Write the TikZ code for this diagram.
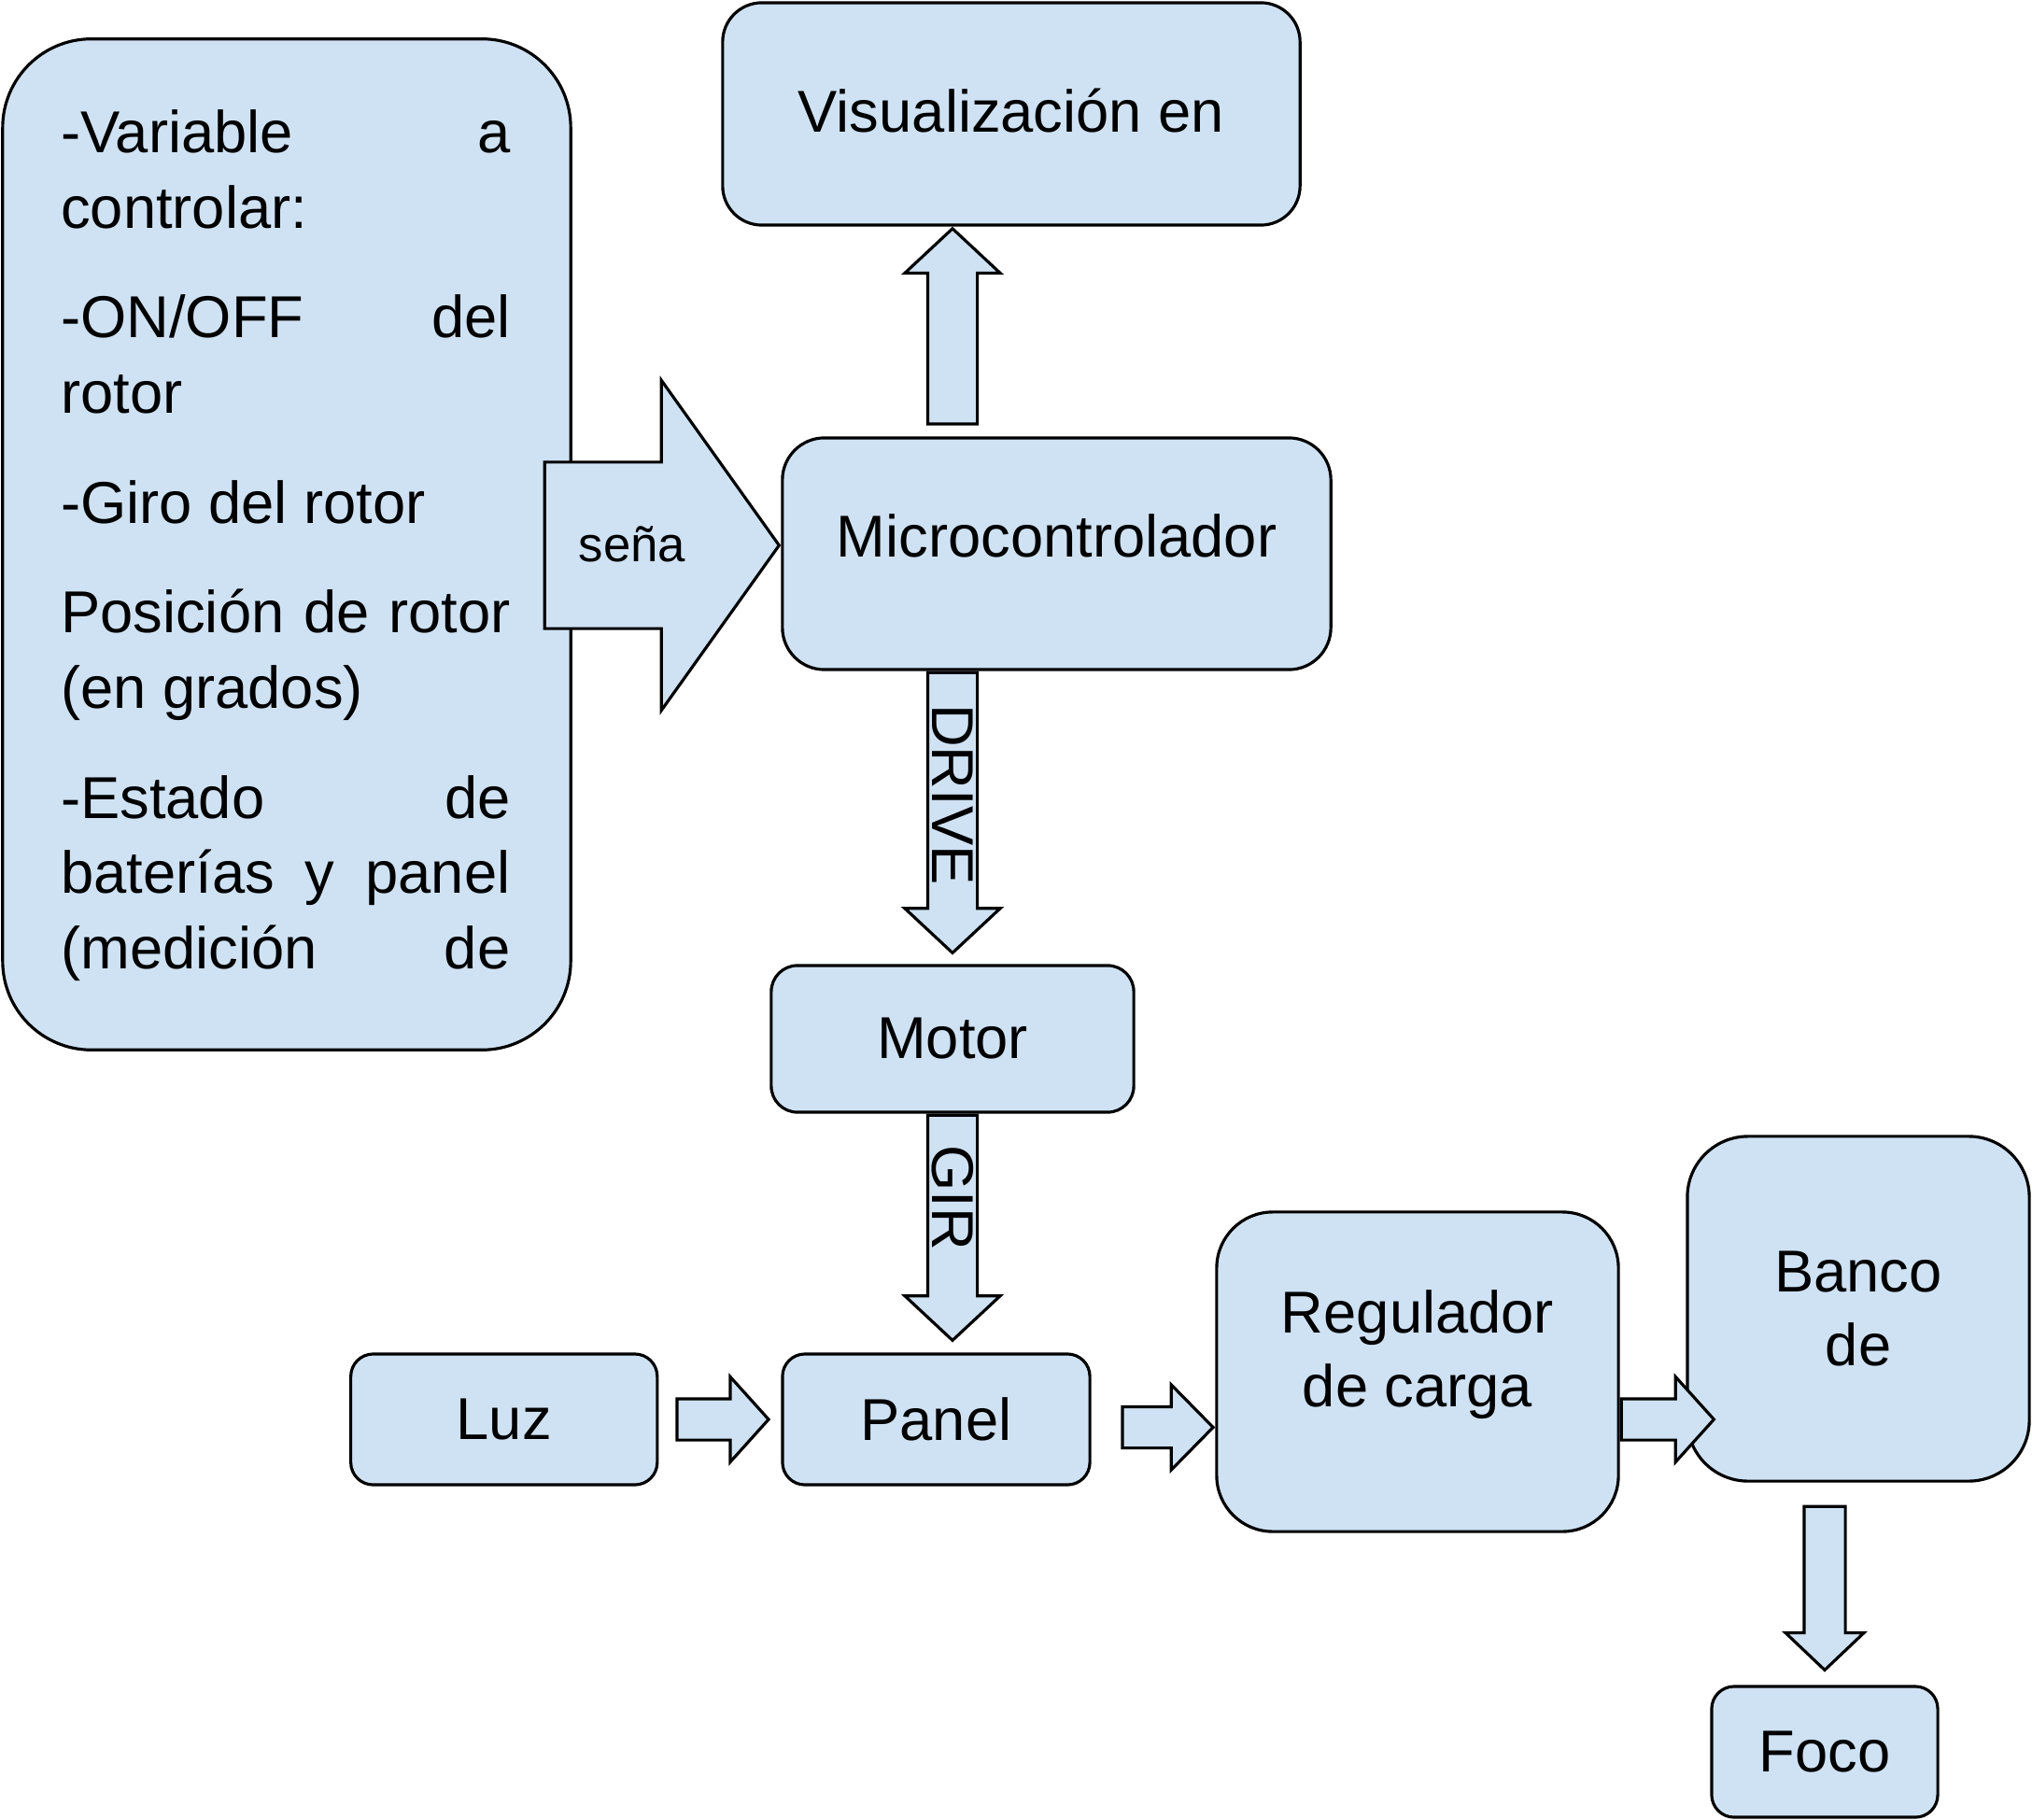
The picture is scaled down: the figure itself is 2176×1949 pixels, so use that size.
\documentclass[tikz,border=0pt]{standalone}
\usepackage{fontspec}
\setmainfont{Liberation Sans}
\usepackage{tikz}
\usetikzlibrary{positioning, calc, shapes.arrows}
\definecolor{boxblue}{HTML}{CFE2F3}
\setlength{\parindent}{0pt}
\tikzset{
 block/.style = {
    rectangle, draw, fill=boxblue,
    line width=0.9pt,
    align=center,
    inner sep=0pt,
    font=\fontsize{18}{22.4}\selectfont},
 block text/.style = {
    black, align=center, inner sep=0pt,
    font=\fontsize{18}{22.4}\selectfont},
 big arrow/.style = {
    single arrow, draw, fill=boxblue, line width=0.9pt,
    inner xsep=0pt, inner ysep=0.25cm, minimum width=0pt,
    single arrow head extend=0.245cm, single arrow tip angle=94},
 small arrow/.style = {
    single arrow, draw, fill=boxblue, line width=0.9pt,
    inner xsep=0pt, inner ysep=0.205cm, minimum width=0pt,
    single arrow head extend=0.235cm, single arrow tip angle=96},
 arrow label/.style = {
    black, inner sep=0pt, rotate=-90,
    font=\fontsize{18}{22}\selectfont},
}

\begin{document}
\begin{tikzpicture}[x=0.01cm, y=-0.01cm, node distance=4.625cm]
    \useasboundingbox (0,0) rectangle (2176,1949);

    % Place nodes
    \node [block, minimum width=6.08cm, minimum height=10.82cm, rounded corners=0.95cm] (vars) at (307,583) {};
    \node [block text, anchor=north west, text width=4.81cm, align=justify,
           font=\fontsize{18}{23}\selectfont] (varstxt) at (64.5,117) {%
        -Variable\hfill a\\
        controlar:\\[10.4pt]
        -ON/OFF\hfill del\\
        rotor\\[10.4pt]
        -Giro del rotor\\[10.4pt]
        Posición\hfill de\hfill rotor\\
        (en grados)\\[10.4pt]
        -Estado\hfill de\\
        baterías\hfill y\hfill panel\\
        (medición\hfill de};
    \node [block, minimum width=6.18cm, minimum height=2.38cm, rounded corners=0.42cm] (vis) at (1083,122) {};
    \node [block text] (vistxt) at ([yshift=0.03cm]vis.center) {Visualización en};
    \node [block, minimum width=5.87cm, minimum height=2.48cm, rounded corners=0.45cm] (micro) at (1131.5,593) {};
    \node [block text] (microtxt) at ([yshift=0.19cm]micro.center) {Microcontrolador};
    \node [block, minimum width=3.88cm, minimum height=1.57cm, rounded corners=0.28cm] (motor) at (1020,1112.5) {Motor};
    \node [block, minimum width=3.29cm, minimum height=1.40cm, rounded corners=0.24cm] (panel) at (1002.5,1520) {Panel};
    \node [block, minimum width=3.28cm, minimum height=1.40cm, rounded corners=0.24cm, left of=panel] (luz) {Luz};
    \node [block, minimum width=4.30cm, minimum height=3.42cm, rounded corners=0.6cm] (reg) at (1518,1469) {};
    \node [block text] (regtxt) at ([yshift=0.18cm]reg.center) {Regulador\\de carga};
    \node [block, minimum width=3.66cm, minimum height=3.69cm, rounded corners=0.65cm] (banco) at (1990,1401.5) {Banco\\de};
    \node [block, minimum width=2.42cm, minimum height=1.40cm, rounded corners=0.24cm] (foco) at (1954,1876) {Foco};

    % Block arrows
    \node [big arrow, rotate=90, anchor=tip, minimum height=2.09cm] (tovis) at (vis.south -| motor.center) {};
    \node [big arrow, rotate=-90, anchor=tail, minimum height=3cm] (drive) at (micro.south -| motor.center) {};
    \node [big arrow, rotate=-90, anchor=tail, minimum height=2.41cm] (gir) at (motor.south) {};
    \node [single arrow, draw, fill=boxblue, line width=0.9pt, inner xsep=0pt, inner ysep=0.875cm,
           minimum width=0pt, single arrow head extend=0.875cm, single arrow tip angle=109,
           anchor=tip, minimum height=2.51cm] (sena) at ([yshift=0.09cm]micro.west) {};
    \node [small arrow, anchor=tail, minimum height=0.98cm] (luzpanel) at ([xshift=0.18cm]luz.east) {};
    \node [small arrow, anchor=tip, minimum height=0.97cm, single arrow tip angle=91] (panelreg) at ([yshift=-0.085cm]reg.west |- panel.east) {};
    \node [small arrow, anchor=tail, minimum height=0.99cm] (regbanco) at (reg.east |- luz.east) {};
    \node [small arrow, rotate=-90, anchor=tail, minimum height=1.75cm, single arrow head extend=0.2cm, single arrow tip angle=93] (bancofoco) at ([yshift=-0.24cm]banco.south -| foco.north) {};

    % Arrow labels
    \node [arrow label] (drivetxt) at ([yshift=-1.32cm]drive.tail) {DRIVE};
    \node [arrow label] (girtxt) at ([yshift=-0.9cm]gir.tail) {GIR};
    \node [black, inner sep=0pt, anchor=base, font=\fontsize{15}{18}\selectfont] (senatxt) at (677,602) {seña};

\end{tikzpicture}
\end{document}
